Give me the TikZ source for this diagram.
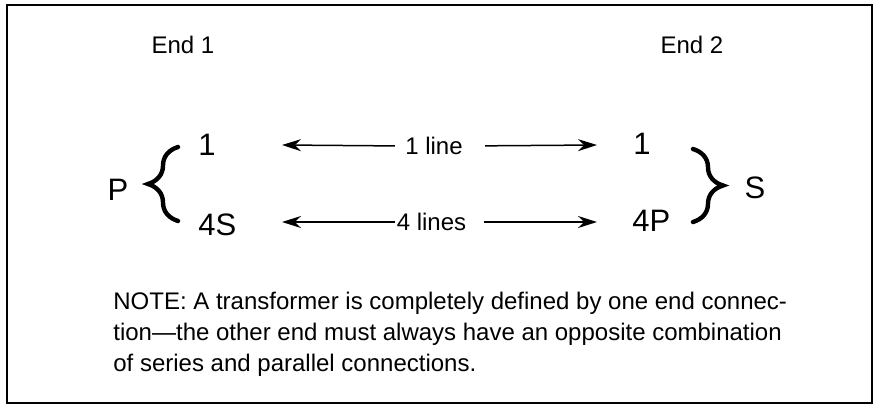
\documentclass[tikz,border=0pt]{standalone}
\usepackage{fontspec}
\setmainfont{Liberation Sans}
\usetikzlibrary{arrows.meta,decorations.pathreplacing}

\begin{document}
\begin{tikzpicture}[
  x=0.5pt, y=-0.5pt,
  >={Stealth[length=9.5pt, width=6pt]},
  every node/.style={font=\fontsize{12}{15.5}\selectfont, inner sep=0pt},
  big/.style={font=\fontsize{15.5}{18}\selectfont},
  conn/.style={->, line width=0.75pt},
  curly/.style={decorate, decoration={brace, amplitude=15pt, aspect=0.5},
                line width=2.2pt, line cap=round},
  frame/.style={draw, line width=1.2pt},
]
\useasboundingbox (0,0) rectangle (879,408);
\draw[frame] (7,5) rectangle (872,403);

\node (endA) at (183,45) {End 1};
\node (endB) at (692,45) {End 2};

% end 1
\node[big] (pLeft) at (118,190) {P};
\node[big, anchor=west] (oneL) at (198,145) {1};
\node[big, anchor=west] (fourS) at (198,225) {4S};
\coordinate (lbTop) at (178,147);
\coordinate (lbBot) at (178,221);
\draw[curly] (lbBot) -- (lbTop);

% end 2
\node[big, anchor=west] (oneR) at (633,144) {1};
\node[big, anchor=west] (fourP) at (632,221) {4P};
\node[big] (sRight) at (755,188) {S};
\coordinate (rbTop) at (693,149);
\coordinate (rbBot) at (693,222);
\draw[curly] (rbTop) -- (rbBot);

% lines between the ends
\coordinate (tipL1) at (282,145);
\coordinate (tipR1) at (597,145);
\node (lab1) at (434,146) {1 line};
\draw[conn, shorten <=5pt] (lab1.west) -- (tipL1);
\draw[conn, shorten <=11pt] (lab1.east) -- (tipR1);

\coordinate (tipL4) at (282,222);
\coordinate (tipR4) at (597,222);
\node (lab4) at (431.5,222) {4 lines};
\draw[conn, shorten <=0.5pt] (lab4.west) -- (tipL4);
\draw[conn, shorten <=8.5pt] (lab4.east) -- (tipR4);

\node[anchor=north west, align=left] (note) at (113,292) {%
  NOTE: A transformer is completely defined by one end connec-\\
  tion—the other end must always have an opposite combination\\
  of series and parallel connections.};
\end{tikzpicture}
\end{document}
